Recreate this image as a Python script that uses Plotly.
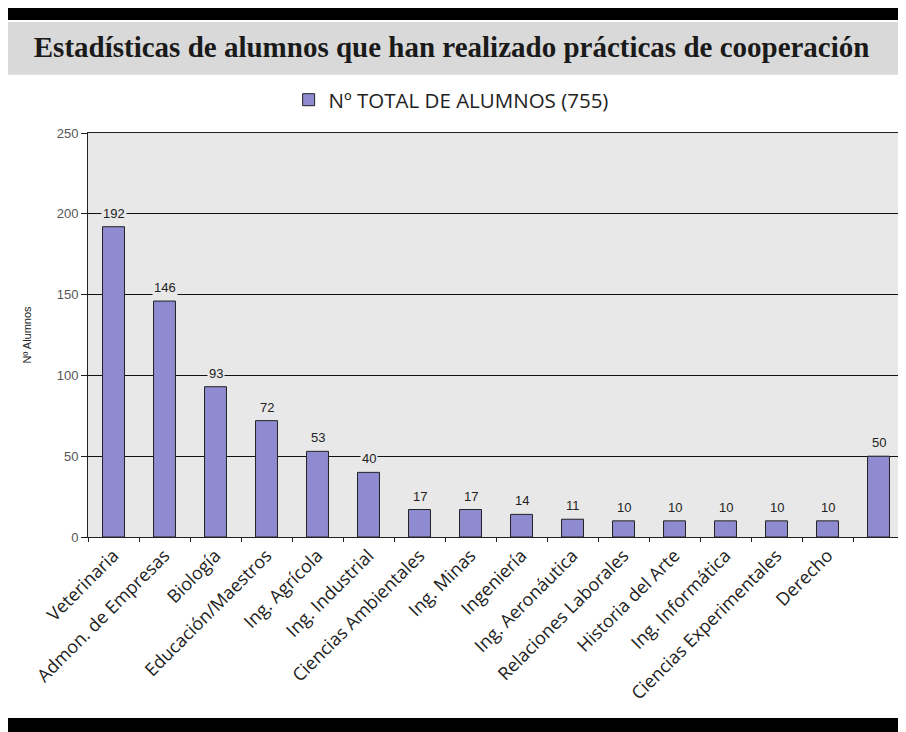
import plotly.graph_objects as go

categories = ["Veterinaria", "Admon. de Empresas", "Biología", "Educación/Maestros",
              "Ing. Agrícola", "Ing. Industrial", "Ciencias Ambientales", "Ing. Minas",
              "Ingeniería", "Ing. Aeronáutica", "Relaciones Laborales", "Historia del Arte",
              "Ing. Informática", "Ciencias Experimentales", "Derecho", " "]
values = [192, 146, 93, 72, 53, 40, 17, 17, 14, 11, 10, 10, 10, 10, 10, 50]
series_name = "Nº TOTAL DE ALUMNOS (755)"
title_text = "Estadísticas de alumnos que han realizado prácticas de cooperación"
y_title = "Nº Alumnos"

PLOT_BG = "#e8e8e8"
fig = go.Figure()
fig.add_trace(go.Bar(
    x=categories, y=values, name=series_name,
    marker=dict(color="#8f8bd0", line=dict(color="#222222", width=1)),
    showlegend=True,
))

annotations = [
    dict(x=c, y=v, text=str(v), xref="x", yref="y", showarrow=False,
         yanchor="bottom", yshift=4, font=dict(family="Liberation Sans", size=13, color="#222"),
         bgcolor=PLOT_BG, borderpad=1)
    for c, v in zip(categories, values)
]

shapes = [
    dict(type="rect", xref="paper", yref="paper", x0=-0.2, x1=1.1, y0=1.280, y1=1.32,
         fillcolor="#000000", line=dict(width=0), layer="below"),
    dict(type="rect", xref="paper", yref="paper", x0=-0.2, x1=1.1, y0=1.144, y1=1.275,
         fillcolor="#d9d9d9", line=dict(width=0), layer="below"),
    dict(type="rect", xref="paper", yref="paper", x0=-0.2, x1=1.1, y0=-0.49, y1=-0.448,
         fillcolor="#000000", line=dict(width=0), layer="below"),
]

# The page body has an 8px margin, so the figure is 8px smaller and shifted.
fig.update_layout(
    width=898, height=724,
    margin=dict(l=80, r=2, t=125, b=195, autoexpand=False),
    paper_bgcolor="#ffffff",
    plot_bgcolor=PLOT_BG,
    bargap=0.57,
    title=dict(text="<b>" + title_text + "</b>", x=0.494, xref="container", xanchor="center",
               y=1 - 39 / 724, yref="container", yanchor="middle",
               font=dict(family="Liberation Serif", size=29, color="#1a1a1a")),
    annotations=annotations,
    shapes=shapes,
    legend=dict(orientation="h", x=0.445, xanchor="center",
                y=1.082, yanchor="middle",
                font=dict(family="Open Sans", size=20.5, color="#222"),
                bgcolor="rgba(0,0,0,0)"),
    xaxis=dict(tickangle=-45, tickfont=dict(family="Open Sans", size=18, color="#222"),
               showline=True, linecolor="#222", linewidth=1, mirror=True,
               ticks="outside", ticklen=4, tickcolor="#222", tickson="boundaries",
               showgrid=False),
    yaxis=dict(range=[0, 250], dtick=50, showgrid=True, gridcolor="#111", gridwidth=1,
               showline=True, linecolor="#222", linewidth=1, mirror=True,
               ticks="outside", ticklen=6, tickcolor="#222", zeroline=False,
               tickfont=dict(family="Liberation Sans", size=13, color="#555"),
               title=dict(text=y_title, font=dict(family="Liberation Sans", size=11, color="#222"),
                          standoff=22)),
)

fig.write_html("out.html")
